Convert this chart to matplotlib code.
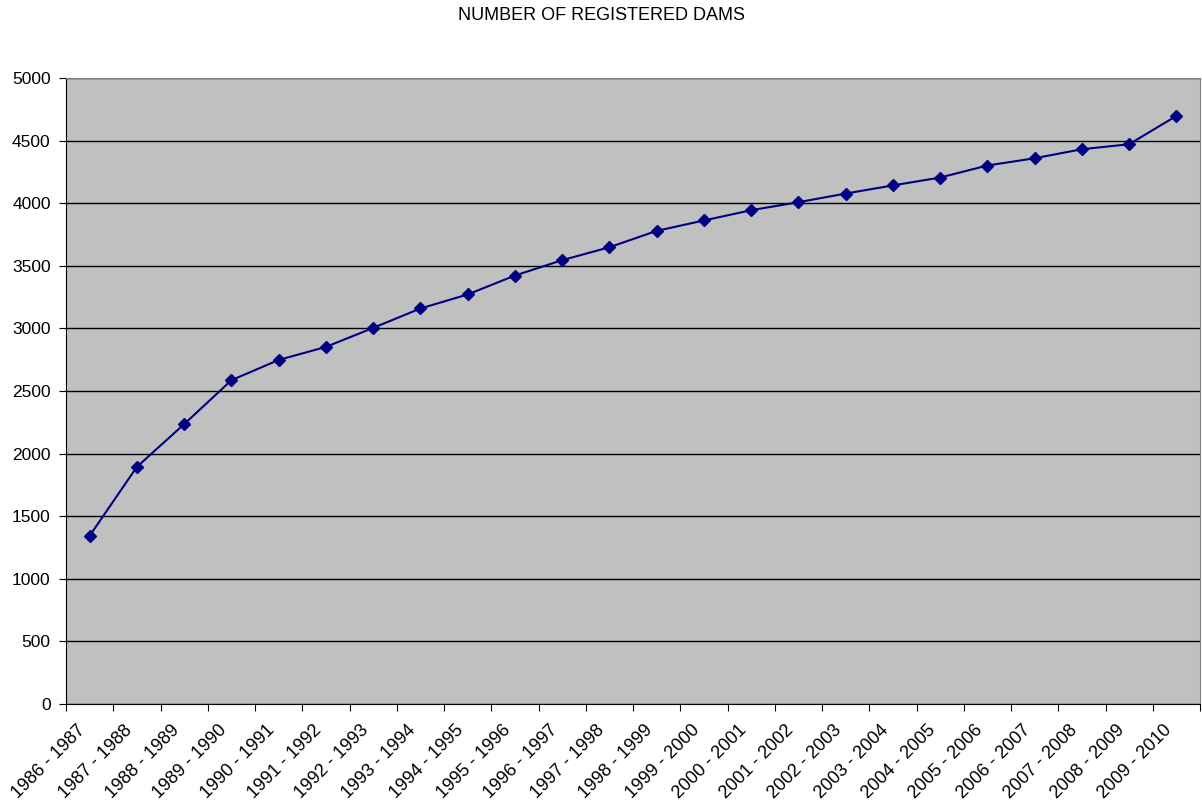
import matplotlib.pyplot as plt
import matplotlib.transforms as mtransforms
import numpy as np

plt.rcParams['font.family'] = ['Liberation Sans', 'DejaVu Sans']

years = ["1986 - 1987", "1987 - 1988", "1988 - 1989", "1989 - 1990", "1990 - 1991",
         "1991 - 1992", "1992 - 1993", "1993 - 1994", "1994 - 1995", "1995 - 1996",
         "1996 - 1997", "1997 - 1998", "1998 - 1999", "1999 - 2000", "2000 - 2001",
         "2001 - 2002", "2002 - 2003", "2003 - 2004", "2004 - 2005", "2005 - 2006",
         "2006 - 2007", "2007 - 2008", "2008 - 2009", "2009 - 2010"]
dams = [1343, 1894, 2235, 2586, 2748, 2852, 3004, 3159, 3271, 3422,
        3545, 3648, 3779, 3862, 3944, 4008, 4077, 4142, 4205, 4301,
        4359, 4431, 4471, 4697]

fig = plt.figure(figsize=(12.02, 8.0), dpi=100)
ax = fig.add_axes([66 / 1202, 96 / 800, 1134 / 1202, 626 / 800])
ax.set_facecolor("#C0C0C0")

x = np.arange(len(years))
ax.plot(x, dams, color="#000080", linewidth=1.5, marker="D", markersize=6.5, zorder=3)

ax.set_xlim(-0.5, len(years) - 0.5)
ax.set_ylim(0, 5000)
ax.set_yticks(range(0, 5001, 500))
ax.grid(axis="y", color="black", linewidth=1)
ax.set_axisbelow(True)

# tick marks on the boundaries, labels in the middle of each category
ax.set_xticks(np.arange(len(years) + 1) - 0.5)
ax.set_xticklabels([])
ax.set_xticks(x, minor=True)
ax.set_xticklabels(years, minor=True, rotation=45, ha="right", va="center",
                   rotation_mode="anchor", fontsize=13)
ax.tick_params(axis="x", which="minor", length=0, pad=17)
ax.tick_params(axis="x", which="major", length=5, direction="out")
ax.tick_params(axis="y", length=5, direction="out", labelsize=12.5, pad=6)

shift = mtransforms.ScaledTranslation(-7 / 100, 0, fig.dpi_scale_trans)
for lab in ax.get_xticklabels(minor=True):
    lab.set_transform(lab.get_transform() + shift)

for s in ["top", "right"]:
    ax.spines[s].set_color("#808080")
for s in ["left", "bottom"]:
    ax.spines[s].set_color("black")

fig.text(0.5, 1 - 16 / 800, "NUMBER OF REGISTERED DAMS", ha="center", va="center", fontsize=13)

fig.savefig("out.png", dpi=100)
